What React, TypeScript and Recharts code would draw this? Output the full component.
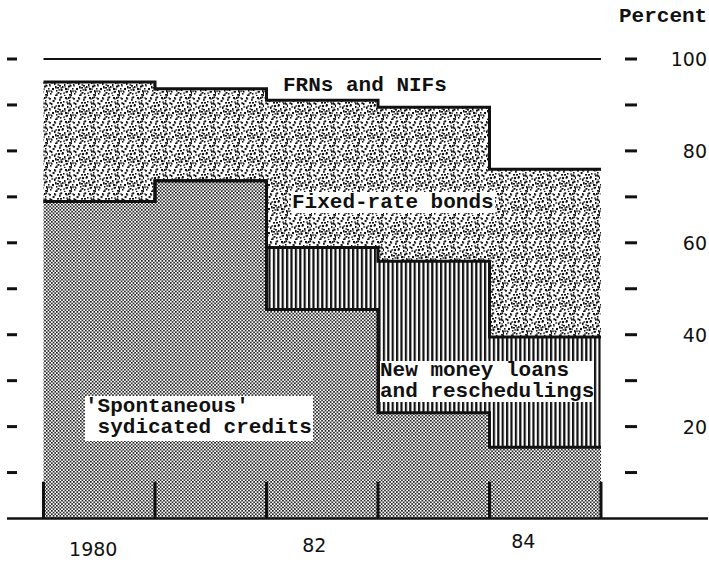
import { Area, ComposedChart, Line, ReferenceLine, XAxis, YAxis } from "recharts";

const years = [1980, 1981, 1982, 1983, 1984];
const spontaneous = [69, 73.5, 45.5, 23, 15.5];
const newMoney = [0, 0, 13.5, 33, 24];
const fixedRate = [26, 20, 32, 33.5, 36.5];
const frnsNifs = [5, 6.5, 9, 10.5, 24];
const percentTicks = [10, 20, 30, 40, 50, 60, 70, 80, 90, 100];
const labelledYears = [1980, 1982, 1984];

// one row per bar edge; the extra last row closes the final step
const rows = [...years, 0].map((_, i) => {
  const k = Math.min(i, years.length - 1);
  const s = spontaneous[k];
  const n = newMoney[k];
  const f = fixedRate[k];
  const r = frnsNifs[k];
  return {
    x: i,
    spontaneous: s,
    newMoney: n,
    fixedRate: f,
    frnsNifs: r,
    topS: s,
    topN: s + n,
    topF: s + n + f,
    topR: s + n + f + r,
  };
});

const edges = rows.map((r) => r.x);
const yearTicks = labelledYears.map((y) => years.indexOf(y) + 0.5);

const INK = "#111";
const MONO = "'Liberation Mono', 'DejaVu Sans Mono', monospace";
const SANS = "'DejaVu Sans', sans-serif";

// nudges so the year labels sit where the printed ones do
const yearNudge: Record<number, [number, number]> = {
  1980: [-6, 37],
  1982: [-8, 33],
  1984: [-22, 29],
};

const STIPPLE = [
  [1, 2], [6, 1], [11, 3], [17, 1], [21, 4], [3, 7], [9, 6], [14, 8], [19, 7], [23, 9],
  [1, 12], [6, 11], [11, 13], [16, 12], [20, 14], [4, 16], [8, 18], [13, 17], [18, 19], [22, 18],
  [2, 21], [7, 23], [12, 21], [16, 23], [21, 22], [5, 4], [15, 5], [10, 9], [0, 16], [14, 14],
  [9, 15], [19, 10], [3, 19], [17, 16], [22, 13], [7, 14], [12, 6], [20, 1], [10, 20], [23, 20],
];
// second, reshuffled copy of the grain so the stipple reads denser and less regular
const STIPPLE2 = STIPPLE.map(([px, py]) => [(py * 7 + 5) % 24, (px * 5 + 11) % 24]);

function Patterns() {
  return (
    <svg width={0} height={0} style={{ position: "absolute" }}>
      <defs>
        <pattern id="dots" width={3.4} height={3.4} patternUnits="userSpaceOnUse">
          <rect width={3.4} height={3.4} fill="#fff" />
          <rect x={0} y={0} width={1.6} height={1.6} fill={INK} />
          <rect x={1.7} y={1.7} width={1.6} height={1.6} fill={INK} />
        </pattern>
        <pattern id="hatch" width={4.4} height={10} patternUnits="userSpaceOnUse">
          <rect width={4.4} height={10} fill="#fff" />
          <rect x={0} y={0} width={2.2} height={10} fill={INK} />
        </pattern>
        <pattern id="stipple" width={24} height={24} patternUnits="userSpaceOnUse">
          <rect width={24} height={24} fill="#fff" />
          {STIPPLE.map(([px, py], i) => (
            <rect key={i} x={px} y={py} width={i % 3 === 0 ? 2 : 1.5} height={i % 2 === 0 ? 1.6 : 2.1} fill={INK} />
          ))}
          {STIPPLE2.map(([px, py], i) => (
            <rect key={`b${i}`} x={px + 0.4} y={py + 0.3} width={i % 2 === 0 ? 1.3 : 1.8} height={i % 3 === 0 ? 1.9 : 1.3} fill={INK} />
          ))}
        </pattern>
      </defs>
    </svg>
  );
}

function LeftTick({ x, y }: any) {
  return <line x1={x} x2={x + 10} y1={y} y2={y} stroke={INK} strokeWidth={3} />;
}

function RightTick({ x, y, payload }: any) {
  const v = payload.value;
  return (
    <g>
      <line x1={x - 83} x2={x - 71} y1={y} y2={y} stroke={INK} strokeWidth={3} />
      {v % 20 === 0 && (
        <text x={x - 1} y={y + 7} textAnchor="end" fontFamily={SANS} fontSize={19} fill={INK}>
          {v}
        </text>
      )}
    </g>
  );
}

function YearTick({ x, y, payload }: any) {
  const yr = years[Math.floor(payload.value)];
  const [dx, dy] = yearNudge[yr] ?? [0, 36];
  const label = yr === years[0] ? String(yr) : String(yr).slice(2);
  return (
    <text x={x + dx} y={y + dy} textAnchor="middle" fontFamily={SANS} fontSize={19} fill={INK}>
      {label}
    </text>
  );
}

const boxText = {
  position: "absolute" as const,
  fontFamily: MONO,
  fontWeight: 700,
  fontSize: 21,
  lineHeight: "21px",
  color: INK,
  whiteSpace: "pre" as const,
};

export default function App() {
  return (
    <div style={{ position: "relative", width: 709, height: 565, background: "#fff" }}>
      <style>{"body{margin:0;background:#fff}"}</style>
      <Patterns />
      <ComposedChart width={709} height={565} data={rows} margin={{ top: 59, right: 0, bottom: 0, left: 0 }}>
        <XAxis
          type="number"
          dataKey="x"
          domain={[0, 5]}
          ticks={yearTicks}
          padding={{ left: 36.5, right: 107 }}
          height={46.5}
          tickLine={false}
          tickSize={0}
          tickMargin={0}
          axisLine={{ stroke: INK, strokeWidth: 2.5 }}
          tick={(p: any) => <YearTick {...p} />}
          interval={0}
        />
        <YAxis
          yAxisId="l"
          domain={[0, 100]}
          ticks={percentTicks}
          width={7}
          axisLine={false}
          tickLine={false}
          tickSize={0}
          tickMargin={0}
          interval={0}
          tick={(p: any) => <LeftTick {...p} />}
        />
        <YAxis
          yAxisId="r"
          orientation="right"
          domain={[0, 100]}
          ticks={percentTicks}
          width={1}
          axisLine={false}
          tickLine={false}
          tickSize={0}
          tickMargin={0}
          interval={0}
          tick={(p: any) => <RightTick {...p} />}
        />
        <Area yAxisId="l" stackId="s" type="stepAfter" dataKey="spontaneous" fill="url(#dots)" fillOpacity={1} stroke="none" isAnimationActive={false} dot={false} activeDot={false} />
        <Area yAxisId="l" stackId="s" type="stepAfter" dataKey="newMoney" fill="url(#hatch)" fillOpacity={1} stroke="none" isAnimationActive={false} dot={false} activeDot={false} />
        <Area yAxisId="l" stackId="s" type="stepAfter" dataKey="fixedRate" fill="url(#stipple)" fillOpacity={1} stroke="none" isAnimationActive={false} dot={false} activeDot={false} />
        <Area yAxisId="l" stackId="s" type="stepAfter" dataKey="frnsNifs" fill="#fff" fillOpacity={1} stroke="none" isAnimationActive={false} dot={false} activeDot={false} />
        <Line yAxisId="r" type="stepAfter" dataKey="topS" stroke={INK} strokeWidth={3} dot={false} activeDot={false} isAnimationActive={false} />
        <Line yAxisId="r" type="stepAfter" dataKey="topN" stroke={INK} strokeWidth={3} dot={false} activeDot={false} isAnimationActive={false} />
        <Line yAxisId="r" type="stepAfter" dataKey="topF" stroke={INK} strokeWidth={3} dot={false} activeDot={false} isAnimationActive={false} />
        <Line yAxisId="r" type="stepAfter" dataKey="topR" stroke={INK} strokeWidth={2} dot={false} activeDot={false} isAnimationActive={false} />
        {edges.map((e) => (
          <ReferenceLine key={e} yAxisId="l" segment={[{ x: e, y: 0 }, { x: e, y: 8 }]} stroke={INK} strokeWidth={3} />
        ))}
      </ComposedChart>

      <div style={{ ...boxText, left: 619, top: 6 }}>Percent</div>
      <div style={{ ...boxText, left: 283, top: 75 }}>FRNs and NIFs</div>
      <div style={{ ...boxText, left: 291, top: 192, background: "#fff", padding: "0 1px" }}>Fixed-rate bonds</div>
      <div style={{ ...boxText, left: 380, top: 361, background: "#fff", lineHeight: "20.5px" }}>
        {"New money loans\nand reschedulings"}
      </div>
      <div style={{ ...boxText, left: 85, top: 396, background: "#fff", padding: "0 1px 3px 0" }}>
        {"'Spontaneous'\n sydicated credits"}
      </div>
    </div>
  );
}
